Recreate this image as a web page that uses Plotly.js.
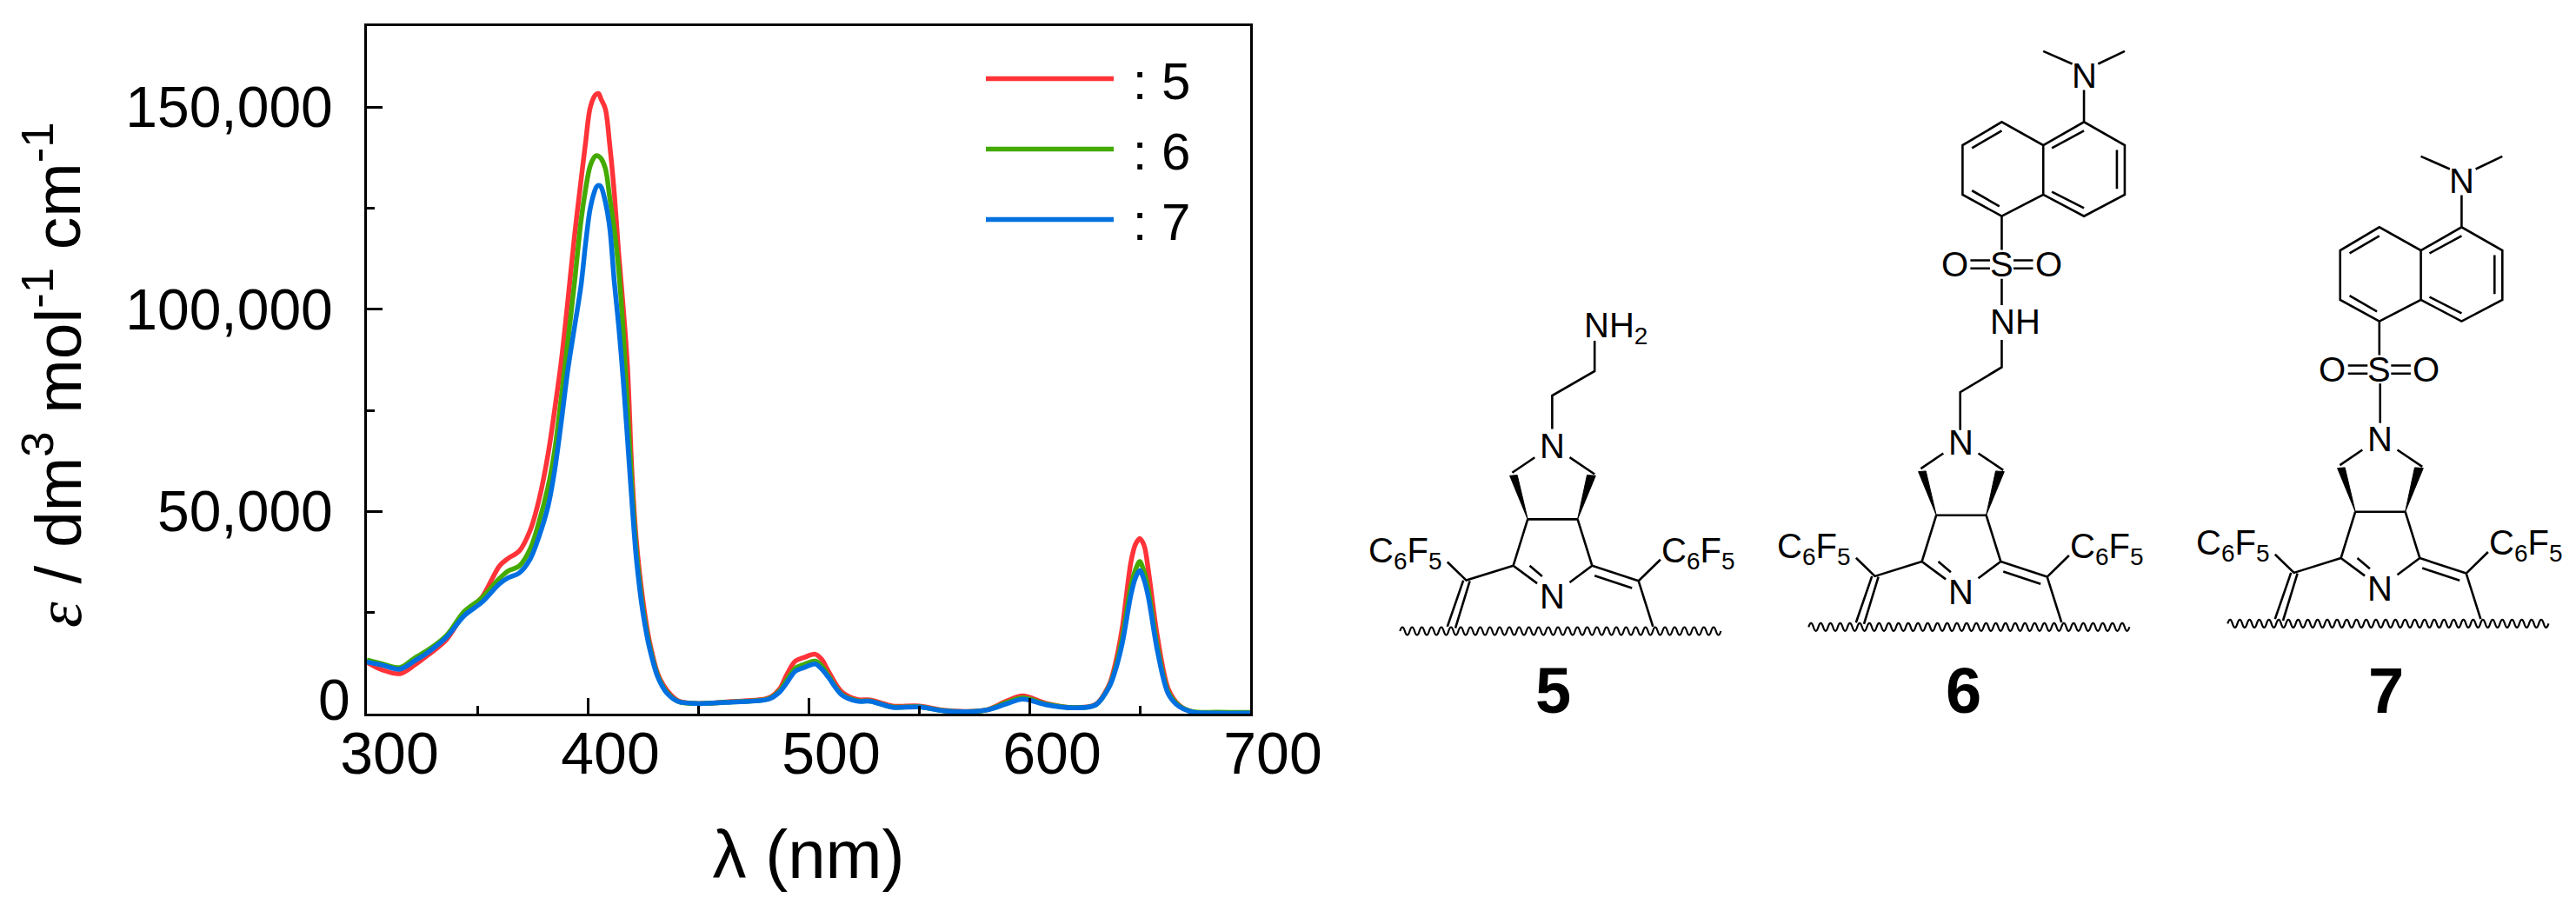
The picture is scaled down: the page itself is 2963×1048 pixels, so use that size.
<!DOCTYPE html>
<html><head><meta charset="utf-8">
<script src="https://cdn.plot.ly/plotly-3.0.1.min.js"></script>
<style>html,body{margin:0;padding:0;background:#fff}</style></head>
<body><div id="chart" style="width:2963px;height:1048px"></div>
<script>
const wavelength=[300,307,315,322,327,336,344,352,360,364,369,374,378,382,385,388,391,394,397,399,401,403,404,405,406,408,410,412,414,416,418,420,422,425,428,432,436,441,449,465,482,487,490,494,498,503,506,509,515,522,528,538,550,561,572,581,590,597,608,620,630,636,639,642,646,648,650,652,654,658,663,668,674,685,700];
const series5=[12700,10800,9900,12200,14200,18300,24700,28700,36500,38400,40200,45400,53000,64000,75000,87000,102000,118000,132000,141000,149500,152600,153200,153300,152000,149500,140500,129000,114000,101000,86000,60000,43000,28000,17800,9500,5700,3200,2500,3000,3900,6200,9500,13000,13900,14700,13400,10500,5400,3500,3400,1900,1900,850,550,1000,3200,4400,2500,1500,2300,7000,12500,21000,37500,41800,43300,41500,35000,19000,6000,2000,400,150,100];
const series6=[13300,12300,11400,13900,15500,19300,25200,28600,33400,35300,36500,40800,47500,56000,65000,78000,92000,106500,122000,129500,135200,137600,138000,137800,137300,134800,127500,119800,110000,95000,76000,56000,40500,26000,16800,9000,5200,3000,2500,2900,3700,5700,8200,11200,12200,13000,11800,9400,4800,3200,3100,1650,1700,750,500,950,2800,3900,2300,1500,2200,6600,11300,18500,31500,35500,37600,35000,30200,16500,5200,1900,500,350,300];
const series7=[12800,12000,11000,13200,14900,18900,24200,27500,32100,33600,34800,38300,43900,51200,60000,72000,85000,95500,106000,116000,124500,129000,130300,130600,130300,126500,120000,107000,96000,83000,68000,52500,38500,25000,16200,8700,5000,3000,2500,2870,3600,5400,7500,10500,11400,12300,11000,9000,4660,3080,3080,1580,1650,720,500,930,2500,3580,2150,1430,2150,6450,10800,17200,29400,33500,35400,33000,28500,15500,4800,1700,400,150,150];
const seriesNames=["\u00a0: 5","\u00a0: 6","\u00a0: 7"];
const seriesColors=["#FF3338","#44AA00","#0070E0"];
const xTicks=[300,400,500,600,700];
const yTicks=[0,50000,100000,150000];
const yTickText=["","50,000","100,000","150,000"];
const FONT='"Liberation Sans", Arial, sans-serif';

const X=p=>p/2963, Y=p=>1-p/1048;
const PT=(x,y)=>X(x).toFixed(5)+','+Y(y).toFixed(5);
const pathOf=segs=>segs.map(s=>s.map((p,i)=>(i?'L':'M')+PT(p[0],p[1])).join('')).join('');
const shift=(segs,dx,dy)=>segs.map(s=>s.map(p=>[p[0]+dx,p[1]+dy]));
const Z=(zx,zy)=>[1550+zx/1.1097,zy/1.496];
const ZS=segs=>segs.map(s=>s.map(p=>Z(p[0],p[1])));

const coreBonds=[
 [[1765.3,526.2],[1739.4,543.8]],[[1805.5,526.2],[1834.2,545.5]],
 [[1757.2,597.4],[1814.6,597.4]],
 [[1757.2,597.4],[1740.6,650.7],[1768.1,671.1]],[[1759.5,650.7],[1773.9,663]],
 [[1814.6,597.4],[1831.3,650.7],[1884.7,668.3]],[[1834.2,662.3],[1877.2,676.4]],
 [[1805.5,670],[1831.3,650.7]],
 [[1884.7,668.3],[1909.9,643.7]],[[1884.7,668.3],[1901.3,720.9]],
 [[1740.6,650.7],[1686.6,667.6],[1664.8,646.5]],
 [[1683.2,667.6],[1664.8,720.9]],[[1690.6,668.3],[1674,722.7]]
];
const wedges=[
 [[1757.2,597.4],[1736.6,547.3],[1745.2,546.6]],
 [[1814.6,597.4],[1825.5,546.6],[1835.3,547.3]]
];
const tail5=[[[1834.2,391.9],[1834.2,427],[1785.4,455],[1785.4,493.6]]];
const tail6=ZS([[[782,740],[782,675],[835,632],[835,585]],[[835,525],[835,480]]]);
const tail7=ZS([[[1318,660],[1318,728]]]);
const dansylBonds=ZS([
 [[835,430],[835,372]],
 [[795,448],[820,448]],[[795,462],[820,462]],[[850,448],[875,448]],[[850,462],[875,462]],
 [[835,372],[785,335],[785,250],[835,210],[888,250],[888,335],[835,372]],
 [[888,250],[940,210],[992,250],[992,335],[940,372],[888,335]],
 [[797,255],[835,225]],[[797,328],[832,355]],[[899,255],[940,225]],[[982,258],[982,325]],[[899,330],[940,358]],
 [[940,210],[940,155]],[[925,110],[888,88]],[[958,110],[992,88]]
]);
const DX6=470,DY6=-4.7,DX7=952,DY7=-8.7;
const DZX=482/1.1097,DZY=181/1.496;

const shapes=[];
function line(segs){shapes.push({type:'path',xref:'paper',yref:'paper',path:pathOf(segs),line:{color:'#000',width:2.6},layer:'above'});}
function fill(poly){shapes.push({type:'path',xref:'paper',yref:'paper',path:pathOf([poly])+'Z',fillcolor:'#000',line:{color:'#000',width:1}});}
function wave(dx,dy){
  let d='M'+PT(1610.3+dx,726+dy);const n=33,per=(1979.4-1610.3)/n;
  for(let i=0;i<n;i++){const x0=1610.3+dx+i*per;
    d+='Q'+PT(x0+per/4,717+dy)+','+PT(x0+per/2,726+dy)+'Q'+PT(x0+per*3/4,735+dy)+','+PT(x0+per,726+dy);}
  shapes.push({type:'path',xref:'paper',yref:'paper',path:d,line:{color:'#000',width:2.2}});
}
[[0,0],[DX6,DY6],[DX7,DY7]].forEach(([dx,dy])=>{line(shift(coreBonds,dx,dy));wedges.forEach(w=>fill(shift([w],dx,dy)[0]));wave(dx,dy);});
line(tail5);line(tail6);line(tail7);line(dansylBonds);line(shift(dansylBonds,DZX,DZY));

const anns=[];
function T(text,x,y,size,extra){anns.push(Object.assign({text,xref:'paper',yref:'paper',x:X(x),y:Y(y),xanchor:'center',yanchor:'middle',showarrow:false,borderpad:0,font:{family:FONT,size:size||40,color:'#000'}},extra||{}));}
const CF='C<sub>6</sub>F<sub>5</sub>';
[[0,0],[DX6,DY6],[DX7,DY7]].forEach(([dx,dy])=>{
  T('N',1785.4+dx,513.3+dy);T('N',1785.4+dx,685.8+dy);T(CF,1616+dx,636+dy);T(CF,1953+dx,636+dy);
});
T('NH<sub>2</sub>',1858,377);
const z1=(zx,zy,s)=>{const p=Z(zx,zy);T(s,p[0],p[1]);};
z1(852,553,'NH');z1(835,455,'S');z1(775,455,'O');z1(895,455,'O');z1(940,130,'N');
z1(1317,636,'S');z1(1257,636,'O');z1(1377,636,'O');z1(1422,311,'N');
T('<b>5</b>',1786,795,74);T('<b>6</b>',2258,795,74);T('<b>7</b>',2744,795,74);
T('0',384,805,66);
T('<span style="font-family:\'Liberation Serif\',serif"><i>ε</i></span> / dm<sup>3</sup> mol<sup>-1</sup> cm<sup>-1</sup>',61,432,75,{textangle:-90});

const traces=[series5,series6,series7].map((v,i)=>({x:wavelength,y:v,name:seriesNames[i],type:'scatter',mode:'lines',line:{color:seriesColors[i],width:5.5,shape:'spline',smoothing:0.9},hoverinfo:'skip'}));
const layout={
 width:2963,height:1048,margin:{l:0,r:0,t:0,b:0,pad:0},paper_bgcolor:'#fff',plot_bgcolor:'#fff',
 font:{family:FONT,color:'#000',size:66},
 xaxis:{domain:[X(422),X(1438)],range:[300,700],tickmode:'array',tickvals:xTicks,ticks:'inside',ticklen:18,tickwidth:3,tickcolor:'#000',
   minor:{dtick:50,ticks:'inside',ticklen:9,tickwidth:3,tickcolor:'#000'},showline:true,linewidth:3,linecolor:'#000',mirror:true,showgrid:false,zeroline:false,
   ticklabelshift:26,ticklabelstandoff:-16,tickfont:{size:68},title:{text:'λ (nm)',font:{size:78},standoff:53}},
 yaxis:{domain:[Y(821),Y(30)],range:[0,170000],tickmode:'array',tickvals:yTicks,ticktext:yTickText,ticks:'inside',ticklen:18,tickwidth:3,tickcolor:'#000',
   minor:{dtick:25000,ticks:'inside',ticklen:9,tickwidth:3,tickcolor:'#000'},showline:true,linewidth:3,linecolor:'#000',mirror:true,showgrid:false,zeroline:false,
   ticklabelstandoff:23,tickfont:{size:66}},
 legend:{x:X(1129),y:Y(45),xanchor:'left',yanchor:'top',bgcolor:'rgba(0,0,0,0)',itemwidth:147,font:{size:60},tracegroupgap:0,itemclick:false},
 showlegend:true,shapes,annotations:anns
};
Plotly.newPlot('chart',traces,layout,{displayModeBar:false,staticPlot:true});
</script></body></html>
